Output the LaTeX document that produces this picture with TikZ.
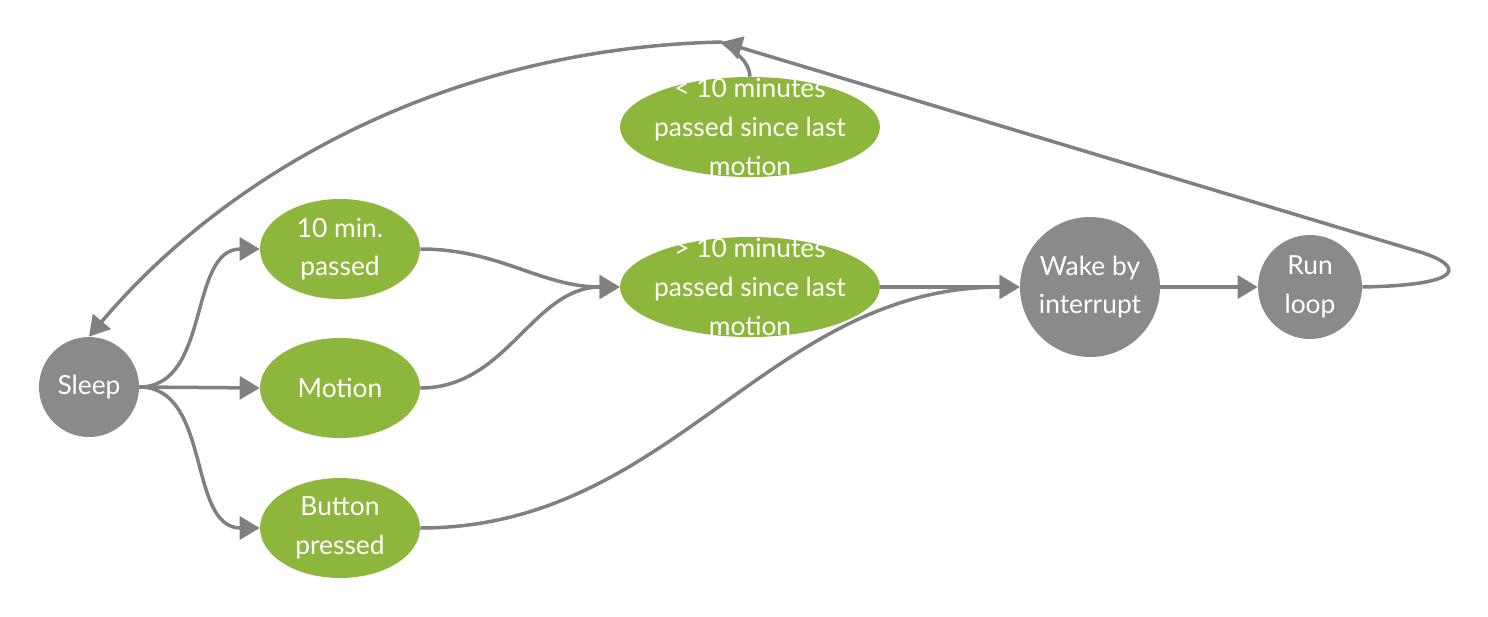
\documentclass[tikz,border=0pt]{standalone}
\usepackage{fontspec}
\setmainfont{Lato}
\usetikzlibrary{arrows.meta,shapes.geometric}
\definecolor{leaf}{HTML}{8DB63C}
\definecolor{stone}{HTML}{8A8A8A}
\definecolor{wire}{HTML}{808080}
\tikzset{
  state/.style = {circle, fill=stone, text=white, inner sep=0pt, align=center},
  cond/.style  = {ellipse, fill=leaf, text=white, inner sep=0pt, align=center,
                  minimum width=3.2cm, minimum height=2cm},
  wide/.style  = {cond, minimum width=5.2cm},
  lbl/.style   = {text=white, align=center, inner sep=0pt},
  ar/.style    = {-{Triangle[length=4mm,width=4.6mm]}, line width=0.7mm, draw=wire},
  ln/.style    = {line width=0.7mm, draw=wire},
}
\begin{document}
\begin{tikzpicture}[x=0.02cm, y=0.02cm, font=\fontsize{15}{22}\selectfont]
\useasboundingbox (0,0) rectangle (1488,-616);

\node[state, minimum size=2cm] (sleep) at (89,-387) {Sleep};
\node[cond] (ten) at (340,-249) {10 min.\\passed};
\node[cond] (motion) at (340,-388) {Motion};
\node[cond] (button) at (340,-528) {Button\\pressed};
\node[wide, label={[lbl]center:{> 10 minutes\\passed since last\\motion}}] (more) at (750,-287) {};
\node[wide, label={[lbl]center:{< 10 minutes\\passed since last\\motion}}] (less) at (750,-127) {};
\node[state, minimum size=2.8cm] (wake) at (1090,-287) {Wake by\\interrupt};
\node[state, minimum size=2.08cm] (run) at (1310,-287) {Run\\loop};
\coordinate (join) at (722,-42);

\draw[ar] (sleep.east) to[out=0,in=180] (ten.west);
\draw[ar] (sleep.east) -- (motion.west);
\draw[ar] (sleep.east) to[out=0,in=180] (button.west);
\draw[ar] (ten.east) to[out=0,in=180] (more.west);
\draw[ar] (motion.east) to[out=0,in=180] (more.west);
\draw[ar] (button.east) to[out=0,in=180] (wake.west);
\draw[ar] (more.east) -- (wake.west);
\draw[ar] (wake) -- (run);
\draw[ar] (run.east) .. controls (1470,-285) and (1462,-265) .. (1420,-252) -- (join);
\draw[ln] (less.north) to[out=95,in=-40] (join);
\draw[ar] (join) .. controls (450,-48) and (230,-170) .. (sleep.north);
\end{tikzpicture}
\end{document}
